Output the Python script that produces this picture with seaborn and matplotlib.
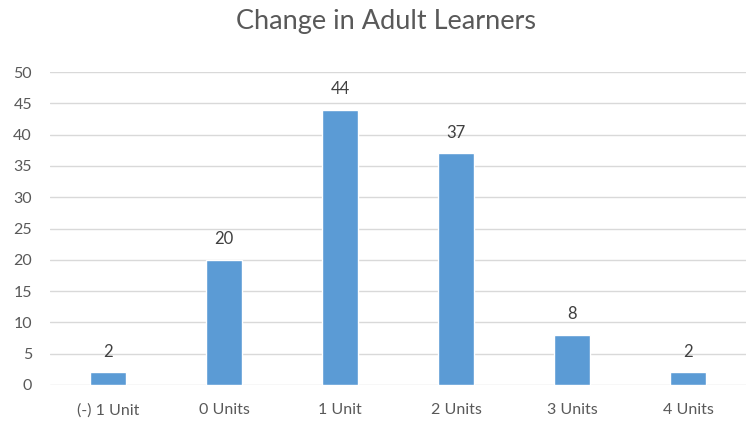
import matplotlib
matplotlib.use("Agg")
import matplotlib.pyplot as plt
import seaborn as sns
import pandas as pd

categories = ["(-) 1 Unit", "0 Units", "1 Unit", "2 Units", "3 Units", "4 Units"]
learners = [2, 20, 44, 37, 8, 2]
y_ticks = [0, 5, 10, 15, 20, 25, 30, 35, 40, 45, 50]

df = pd.DataFrame({"change": categories, "count": learners})

sns.set_theme(style="white")
plt.rcParams["font.family"] = ["Lato", "DejaVu Sans"]

text_color = "#595959"
bar_color = "#5B9BD5"

fig = plt.figure(figsize=(7.51, 4.26), dpi=100)
ax = fig.add_axes([50 / 751, 41 / 426, 696 / 751, 313 / 426])

sns.barplot(data=df, x="change", y="count", color=bar_color, width=0.31,
            saturation=1, ax=ax, zorder=3)

ax.set_ylim(0, 50)
ax.set_xlim(-0.5, len(categories) - 0.5)
ax.set_yticks(y_ticks)
ax.yaxis.grid(True, color="#D9D9D9", linewidth=1.0, zorder=0)
ax.set_axisbelow(True)
for s in ax.spines.values():
    s.set_visible(False)
ax.tick_params(axis="both", length=0, colors=text_color, labelsize=11.5)
ax.tick_params(axis="y", pad=13)
ax.tick_params(axis="x", pad=13)
ax.set_xlabel("")
ax.set_ylabel("")

for i, v in enumerate(learners):
    ax.annotate(str(v), (i, v), xytext=(0, 9), textcoords="offset points",
                ha="center", va="bottom", fontsize=12, color="#404040")

fig.text(386 / 751, 1 - 22 / 426, "Change in Adult Learners", ha="center",
         va="center", fontsize=19.5, color=text_color)

fig.savefig("out.png", dpi=100)
